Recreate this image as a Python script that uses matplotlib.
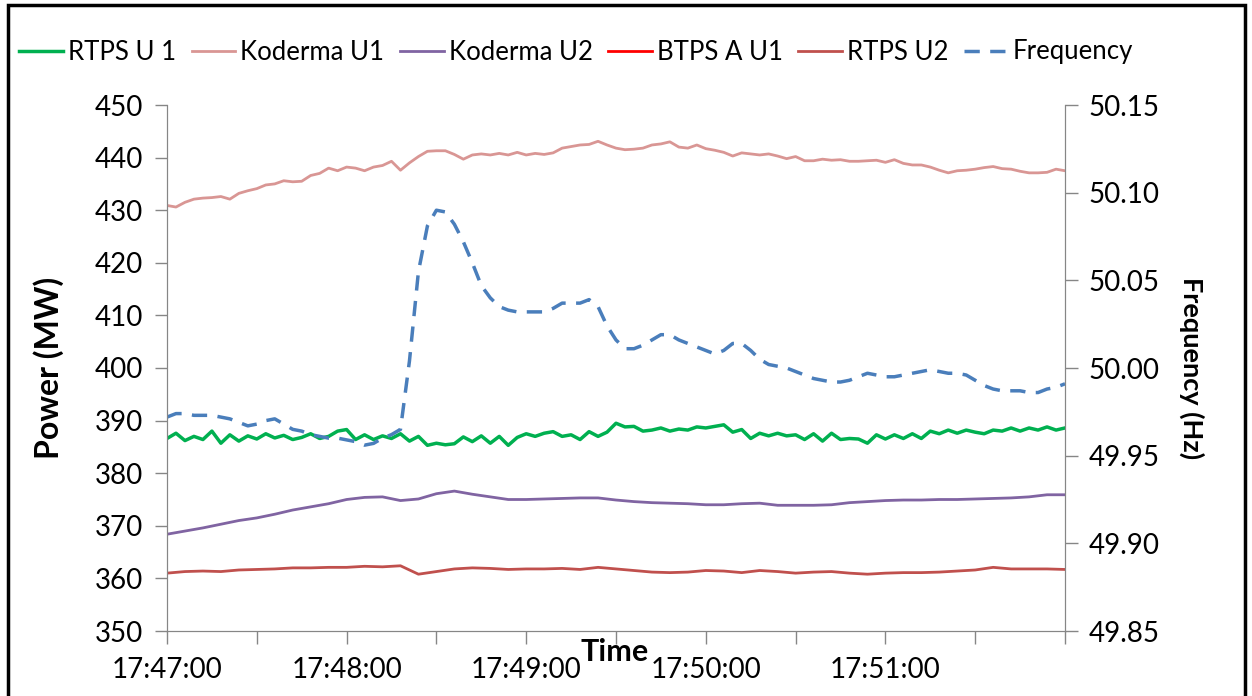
import numpy as np
import matplotlib
matplotlib.use('Agg')
from matplotlib import pyplot as plt
from matplotlib.ticker import FixedLocator, FuncFormatter
from matplotlib.patches import Rectangle

plt.rcParams['font.family'] = ['Lato', 'DejaVu Sans']

# seconds after 17:47:00
t3 = np.arange(0, 301, 3)
t6 = np.arange(0, 301, 6)

# RTPS U 1 (MW), every 3 s
rtps_u1 = [386.6, 387.6, 386.2, 387.0, 386.4, 388.0, 385.7, 387.3, 386.1, 387.1,
           386.5, 387.5, 386.7, 387.2, 386.4, 386.8, 387.5, 386.6, 387.0, 388.0,
           388.3, 386.4, 387.3, 386.4, 387.1, 386.6, 387.5, 386.1, 387.0, 385.3,
           385.7, 385.4, 385.6, 386.9, 386.0, 387.1, 385.7, 387.0, 385.3, 386.8,
           387.5, 387.0, 387.6, 387.9, 387.0, 387.3, 386.4, 387.9, 387.0, 387.8,
           389.5, 388.8, 388.9, 388.0, 388.2, 388.6, 388.0, 388.4, 388.2, 388.8,
           388.6, 388.9, 389.2, 387.8, 388.3, 386.6, 387.6, 387.1, 387.6, 387.1,
           387.3, 386.4, 387.5, 386.1, 387.6, 386.4, 386.6, 386.5, 385.7, 387.3,
           386.5, 387.3, 386.6, 387.5, 386.6, 388.0, 387.5, 388.2, 387.6, 388.2,
           387.8, 387.5, 388.2, 388.0, 388.6, 388.0, 388.6, 388.2, 388.8, 388.2,
           388.6]

# Koderma U1 (MW), every 3 s
koderma_u1 = [430.9, 430.6, 431.5, 432.1, 432.3, 432.4, 432.6, 432.1, 433.2, 433.7,
              434.1, 434.8, 435.0, 435.6, 435.4, 435.5, 436.6, 437.0, 438.0, 437.5,
              438.2, 438.0, 437.5, 438.2, 438.5, 439.3, 437.6, 439.0, 440.2, 441.2,
              441.3, 441.3, 440.6, 439.7, 440.5, 440.7, 440.5, 440.8, 440.5, 441.0,
              440.5, 440.8, 440.6, 440.9, 441.8, 442.1, 442.4, 442.5, 443.1, 442.4,
              441.8, 441.5, 441.6, 441.8, 442.4, 442.6, 443.0, 442.0, 441.8, 442.4,
              441.7, 441.4, 441.0, 440.3, 440.9, 440.7, 440.5, 440.7, 440.3, 439.8,
              440.2, 439.4, 439.4, 439.7, 439.5, 439.6, 439.3, 439.3, 439.4, 439.5,
              439.1, 439.6, 438.9, 438.6, 438.6, 438.2, 437.6, 437.1, 437.5, 437.6,
              437.8, 438.1, 438.3, 437.9, 437.8, 437.4, 437.1, 437.1, 437.2, 437.8,
              437.5]

# Koderma U2 (MW), every 6 s
koderma_u2 = [368.4, 369.0, 369.6, 370.3, 371.0, 371.5, 372.2, 373.0, 373.6, 374.2,
              375.0, 375.4, 375.5, 374.8, 375.1, 376.1, 376.6, 376.0, 375.5, 375.0,
              375.0, 375.1, 375.2, 375.3, 375.3, 374.9, 374.6, 374.4, 374.3, 374.2,
              374.0, 374.0, 374.2, 374.3, 373.9, 373.9, 373.9, 374.0, 374.4, 374.6,
              374.8, 374.9, 374.9, 375.0, 375.0, 375.1, 375.2, 375.3, 375.5, 375.9,
              375.9]

# BTPS A U1 - off the 350-450 scale, legend only
btps_a_u1 = []

# RTPS U2 (MW), every 6 s
rtps_u2 = [361.0, 361.3, 361.4, 361.3, 361.6, 361.7, 361.8, 362.0, 362.0, 362.1,
           362.1, 362.3, 362.2, 362.4, 360.8, 361.3, 361.8, 362.0, 361.9, 361.7,
           361.8, 361.8, 361.9, 361.7, 362.1, 361.8, 361.5, 361.2, 361.1, 361.2,
           361.5, 361.4, 361.1, 361.5, 361.3, 361.0, 361.2, 361.3, 361.0, 360.8,
           361.0, 361.1, 361.1, 361.2, 361.4, 361.6, 362.1, 361.8, 361.8, 361.8,
           361.7]

# Frequency (Hz), every 3 s
frequency = [49.972, 49.974, 49.974, 49.973, 49.973, 49.973, 49.972, 49.971, 49.969, 49.967,
             49.968, 49.970, 49.971, 49.968, 49.965, 49.964, 49.962, 49.961, 49.960, 49.960,
             49.959, 49.958, 49.956, 49.957, 49.960, 49.962, 49.965, 50.004, 50.055, 50.081,
             50.090, 50.089, 50.082, 50.072, 50.060, 50.047, 50.040, 50.035, 50.033, 50.032,
             50.032, 50.032, 50.032, 50.034, 50.037, 50.037, 50.037, 50.039, 50.035, 50.024,
             50.016, 50.011, 50.011, 50.013, 50.016, 50.019, 50.019, 50.016, 50.014, 50.012,
             50.010, 50.008, 50.010, 50.014, 50.014, 50.010, 50.005, 50.002, 50.001, 50.000,
             49.998, 49.996, 49.994, 49.993, 49.992, 49.992, 49.993, 49.995, 49.997, 49.996,
             49.995, 49.995, 49.996, 49.997, 49.998, 49.999, 49.998, 49.997, 49.997, 49.996,
             49.993, 49.990, 49.988, 49.987, 49.987, 49.987, 49.986, 49.986, 49.988, 49.989,
             49.991]

fig, ax = plt.subplots(figsize=(12.52, 6.96), dpi=100)
fig.subplots_adjust(left=167 / 1252, right=1065 / 1252, bottom=1 - 631 / 696, top=1 - 105 / 696)
ax2 = ax.twinx()

l1, = ax.plot(t3, rtps_u1, color='#00B050', lw=2.5, label='RTPS U 1')
l2, = ax.plot(t3, koderma_u1, color='#D99694', lw=2.0, label='Koderma U1')
l3, = ax.plot(t6, koderma_u2, color='#8064A2', lw=2.0, label='Koderma U2')
l4, = ax.plot(t6[:len(btps_a_u1)], btps_a_u1, color='#FF0000', lw=2.0, label='BTPS A U1')
l5, = ax.plot(t6, rtps_u2, color='#C0504D', lw=2.0, label='RTPS U2')
l6, = ax2.plot(t3, frequency, color='#4A7EBB', lw=2.5, dashes=(4.4, 3.0), label='Frequency')

ax.set_xlim(0, 300)
ax.set_ylim(350, 450)
ax.set_yticks(np.arange(350, 451, 10))
ax2.set_ylim(49.85, 50.15)
ax2.set_yticks(np.arange(49.85, 50.151, 0.05))
ax2.yaxis.set_major_formatter(FuncFormatter(lambda v, p: f'{v:.2f}'))

ax.xaxis.set_major_locator(FixedLocator([0, 60, 120, 180, 240]))
ax.xaxis.set_minor_locator(FixedLocator([30, 90, 150, 210, 270, 300]))
ax.xaxis.set_major_formatter(FuncFormatter(
    lambda s, p: f'17:{47 + int(s) // 60:02d}:{int(s) % 60:02d}'))

gray = '#868686'
for a in (ax, ax2):
    a.spines['top'].set_visible(False)
    for side in ('left', 'right', 'bottom'):
        a.spines[side].set_color(gray)
    a.tick_params(which='both', color=gray, length=9, width=1, labelsize=20, pad=8)
ax.tick_params(axis='x', which='major', pad=10)

ax.set_ylabel('Power (MW)', fontsize=23, fontweight='bold', labelpad=22)
ax2.set_ylabel('Frequency (Hz)', fontsize=19.5, fontweight='bold', rotation=270, labelpad=32)
fig.text(615 / 1252, 1 - 652 / 696, 'Time', fontsize=22, fontweight='bold',
         ha='center', va='center')

fig.legend(handles=[l1, l2, l3, l4, l5, l6], loc='center left',
           bbox_to_anchor=(9 / 1252, 1 - 52 / 696), ncol=6, frameon=False,
           fontsize=18.5, handlelength=1.7, handletextpad=0.2, columnspacing=0.6,
           borderaxespad=0)

# chart border
fig.patches.append(Rectangle((8 / 1252, -0.1), 1237 / 1252, 1.1 - 5 / 696,
                             transform=fig.transFigure, fill=False,
                             edgecolor='black', lw=2.5))

fig.savefig('out.png', dpi=100)
